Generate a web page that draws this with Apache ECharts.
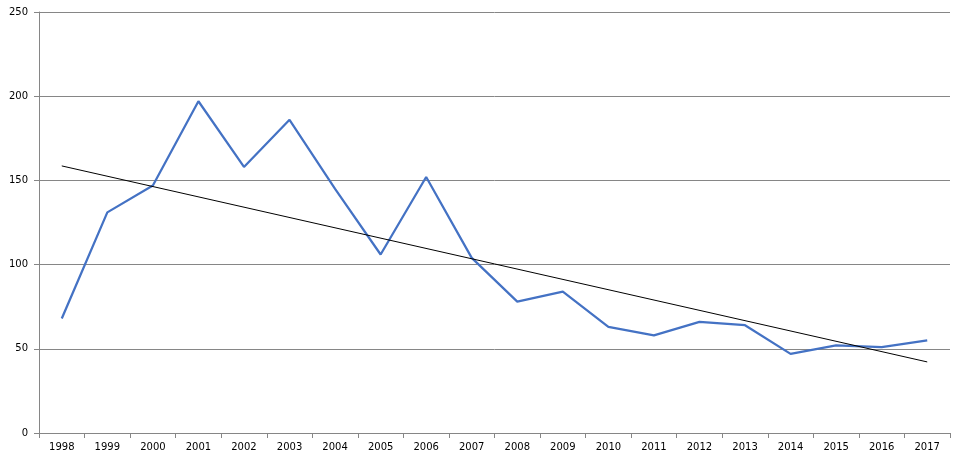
<!DOCTYPE html>
<html><head><meta charset="utf-8">
<script src="https://cdn.jsdelivr.net/npm/echarts@6/dist/echarts.min.js"></script>
<style>html,body{margin:0;padding:0;background:#fff}#c{width:964px;height:465px}</style>
</head><body><div id="c"></div>
<script>
const years = ['1998','1999','2000','2001','2002','2003','2004','2005','2006','2007','2008','2009','2010','2011','2012','2013','2014','2015','2016','2017'];
const values = [68,131,147,197,158,186,145,106,152,104,78,84,63,58,66,64,47,52,51,55];
const trendStart = 158.6;
const trendEnd = 42.2;
const trend = years.map((y,i)=> i===0 ? trendStart : (i===years.length-1 ? trendEnd : null));
const chart = echarts.init(document.getElementById('c'));
chart.setOption({
  animation:false,
  grid:{left:39,right:14,top:12,bottom:32,containLabel:false},
  xAxis:{type:'category',data:years,boundaryGap:true,
    axisLine:{lineStyle:{color:'#868686',width:1}},
    axisTick:{show:true,length:5,inside:false,lineStyle:{color:'#868686'},alignWithLabel:false},
    axisLabel:{color:'#000',fontFamily:'DejaVu Sans',fontSize:10,margin:9}},
  yAxis:{type:'value',min:0,max:250,interval:50,
    axisLine:{show:true,lineStyle:{color:'#868686',width:1}},
    axisTick:{show:true,length:5,lineStyle:{color:'#868686'}},
    splitLine:{lineStyle:{color:'#868686',width:1}},
    axisLabel:{color:'#000',fontFamily:'DejaVu Sans',fontSize:10,margin:11}},
  series:[
    {type:'line',data:values,symbol:'none',lineStyle:{color:'#4472C4',width:2.25},z:3},
    {type:'line',data:trend,connectNulls:true,symbol:'none',lineStyle:{color:'#000',width:1},z:4}
  ]
});
</script></body></html>
